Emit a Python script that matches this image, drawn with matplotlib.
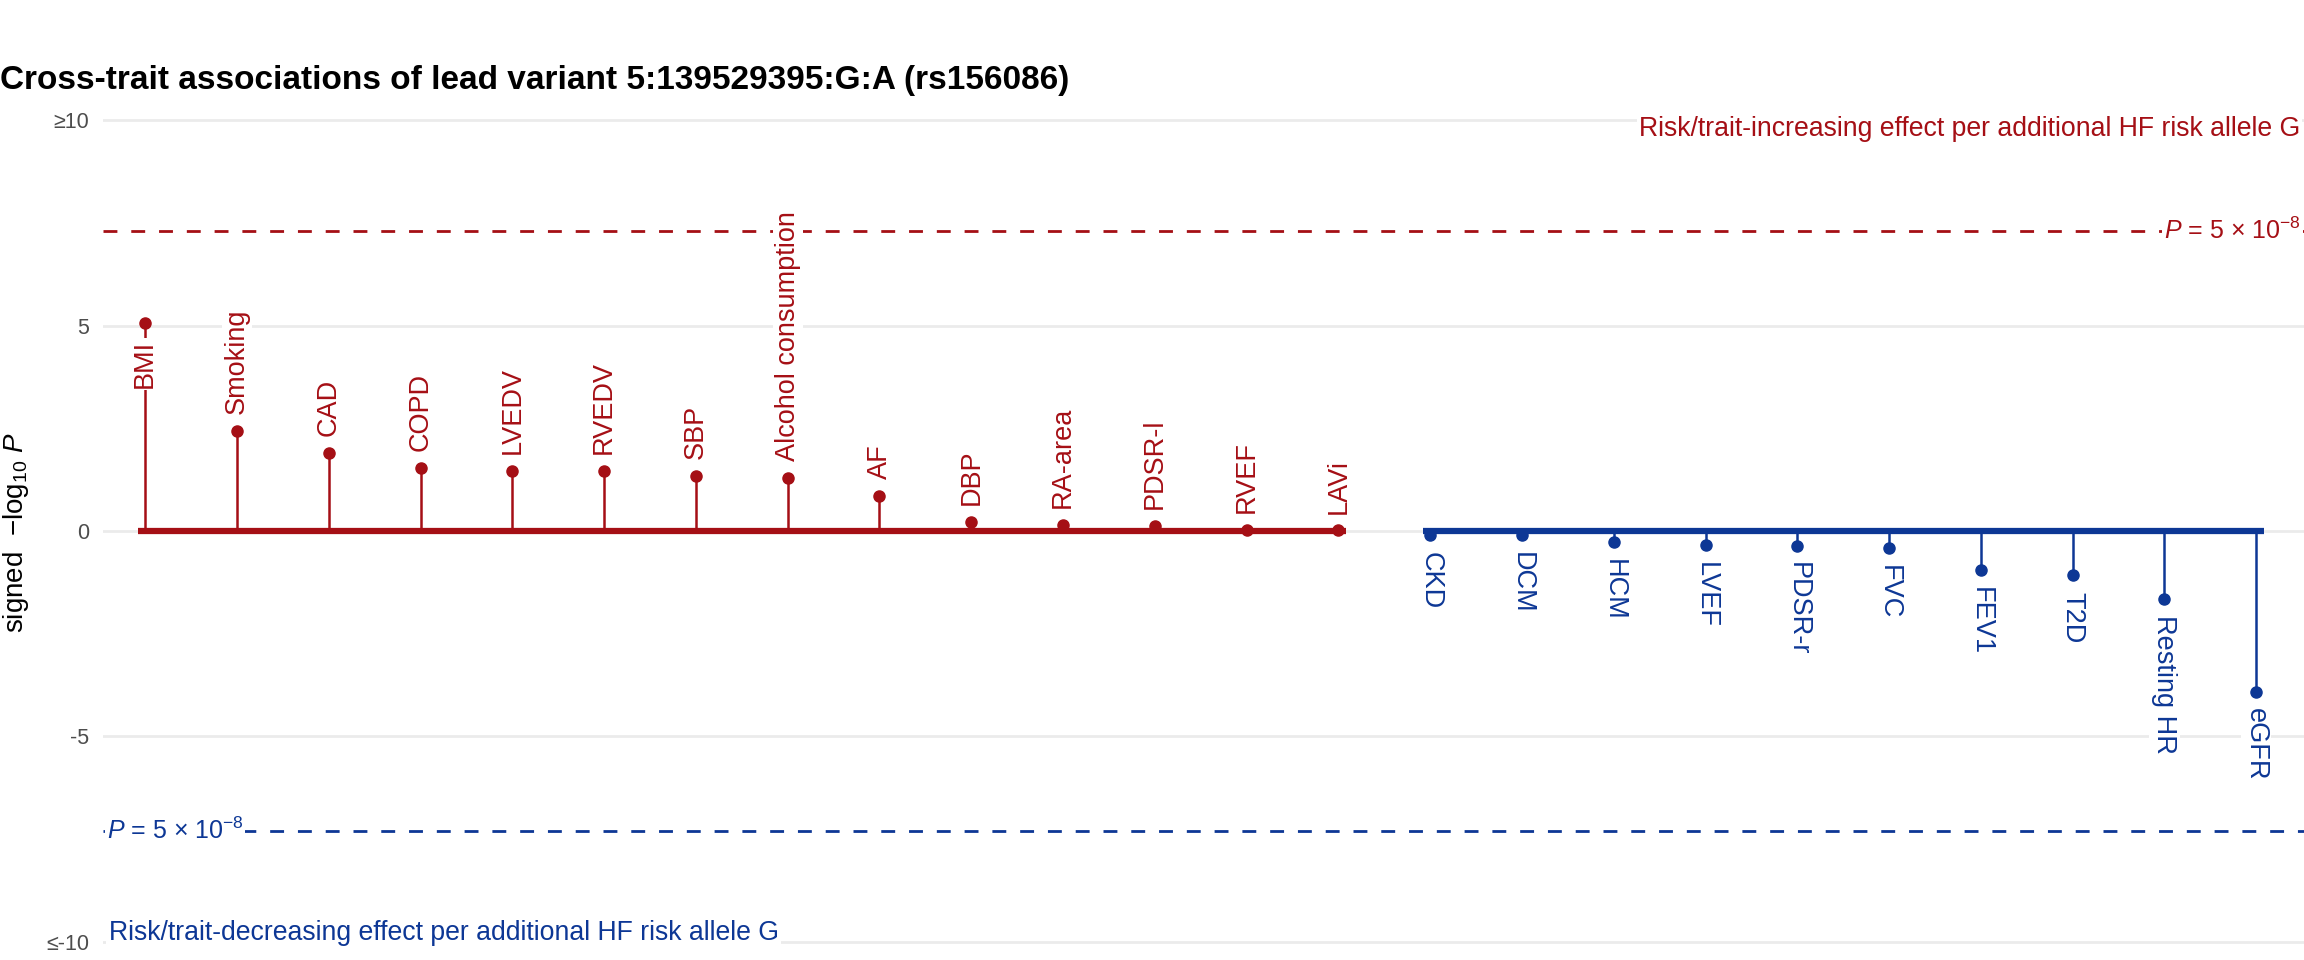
import numpy as np
import matplotlib
matplotlib.use("Agg")
from matplotlib import pyplot as plt

plt.rcParams['font.family'] = ['Liberation Sans', 'DejaVu Sans']
plt.rcParams['mathtext.fontset'] = 'custom'
plt.rcParams['mathtext.rm'] = 'Liberation Sans'
plt.rcParams['mathtext.it'] = 'Liberation Sans:italic'

# traits with a risk/trait-increasing effect (signed -log10 P > 0)
up_traits = ['BMI', 'Smoking', 'CAD', 'COPD', 'LVEDV', 'RVEDV', 'SBP',
             'Alcohol consumption', 'AF', 'DBP', 'RA-area', 'PDSR-l', 'RVEF', 'LAVi']
up_values = [5.06, 2.44, 1.90, 1.53, 1.46, 1.46, 1.34, 1.29, 0.85, 0.23, 0.15, 0.13, 0.03, 0.02]
# traits with a decreasing effect
down_traits = ['CKD', 'DCM', 'HCM', 'LVEF', 'PDSR-r', 'FVC', 'FEV1', 'T2D', 'Resting HR', 'eGFR']
down_values = [-0.10, -0.10, -0.28, -0.35, -0.36, -0.42, -0.95, -1.08, -1.65, -3.91]

y_ticks = [-10, -5, 0, 5, 10]
y_ticklabels = ['≤-10', '-5', '0', '5', '≥10']
gws_p = 5e-8

RED = '#A50F15'
BLUE = '#0D3795'
GRID = '#EBEBEB'
label_below = ['BMI']   # label pushed under its point (repelled)

fig = plt.figure(figsize=(23.04, 9.6), dpi=100)
ax = fig.add_axes([103 / 2304, 6 / 960, 1 - 103 / 2304, 846 / 960])
ax.set_xlim(0.54, 24.52)
ax.set_ylim(-10.3, 10.3)

for t in y_ticks:
    ax.axhline(t, color=GRID, lw=2.0, zorder=0)

thr = -np.log10(gws_p)
ax.axhline(thr, color=RED, lw=2.0, ls=(0, (5, 5)), zorder=1)
ax.axhline(-thr, color=BLUE, lw=2.0, ls=(0, (5, 5)), zorder=1)

x_up = np.arange(1, len(up_traits) + 1)
x_down = np.arange(len(up_traits) + 1, len(up_traits) + len(down_traits) + 1)

box = dict(facecolor='white', edgecolor='none', pad=1.5)
for xs, vals, names, col in [(x_up, up_values, up_traits, RED),
                             (x_down, down_values, down_traits, BLUE)]:
    ax.vlines(xs, 0, vals, color=col, lw=1.8, zorder=2)
    ax.plot([xs[0] - 0.08, xs[-1] + 0.08], [0, 0], color=col, lw=4.5,
            solid_capstyle='butt', zorder=3)
    ax.plot(xs, vals, 'o', color=col, ms=8, zorder=4)
    for x, v, name in zip(xs, vals, names):
        up = v > 0
        if name in label_below:
            up = not up
        ax.annotate(name, (x, v), xytext=(0, 12 if up else -12),
                    textcoords='offset points', rotation=90 if v > 0 else 270,
                    ha='center', va='bottom' if up else 'top', color=col,
                    fontsize=19.5, bbox=box, zorder=5)

# threshold and direction annotations
ptxt = r'$P$ = 5 × 10$^{-8}$'
ax.text(24.49, thr, ptxt, color=RED, fontsize=18, ha='right', va='center',
        bbox=box, zorder=5)
ax.text(0.58, -thr, ptxt, color=BLUE, fontsize=18, ha='left', va='center',
        bbox=box, zorder=5)
ax.text(24.48, 9.8, 'Risk/trait-increasing effect per additional HF risk allele G',
        color=RED, fontsize=19.2, ha='right', va='center', bbox=box, zorder=5)
ax.text(0.6, -9.8, 'Risk/trait-decreasing effect per additional HF risk allele G',
        color=BLUE, fontsize=19.2, ha='left', va='center', bbox=box, zorder=5)

ax.set_yticks(y_ticks)
ax.set_yticklabels(y_ticklabels, color='#4D4D4D', fontsize=15.5)
ax.set_xticks([])
ax.tick_params(axis='y', length=0, pad=10)
for s in ax.spines.values():
    s.set_visible(False)

fig.text(16 / 2304, 1 - 532 / 960, r'signed  $-\mathrm{log}_{10}\ P$', fontsize=20,
         rotation=90, ha='center', va='center')
fig.text(0.0, 1 - 80 / 960, 'Cross-trait associations of lead variant 5:139529395:G:A (rs156086)',
         fontsize=24, fontweight='bold', ha='left', va='center')

fig.savefig('out.png', dpi=100)
